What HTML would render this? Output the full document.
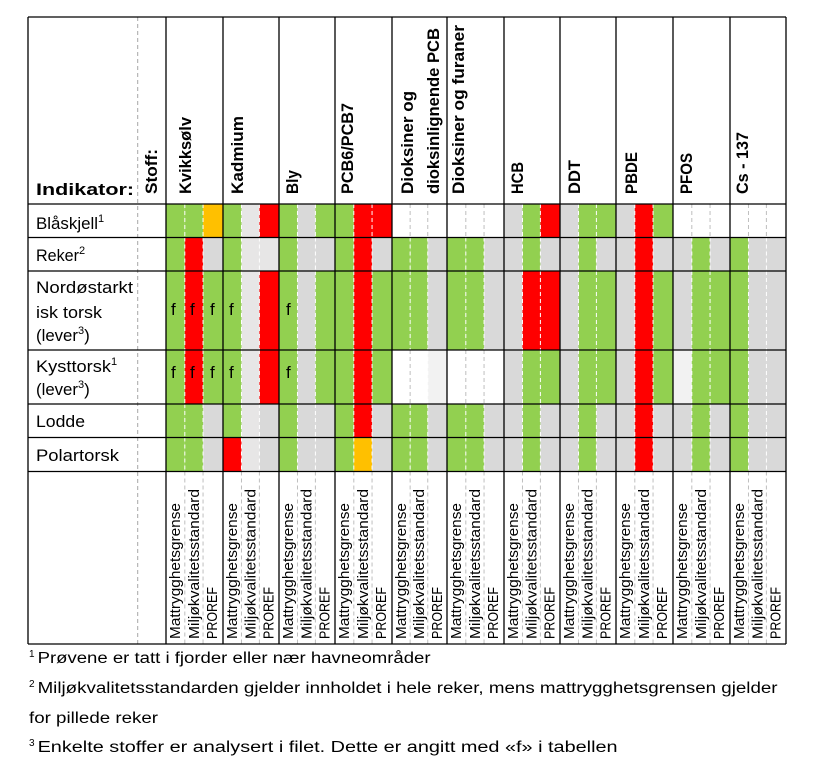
<!DOCTYPE html>
<html><head><meta charset="utf-8"><style>
html,body{margin:0;padding:0;background:#fff;width:819px;height:773px;overflow:hidden}
svg{display:block}
text{font-family:"Liberation Sans",sans-serif;fill:#000}
.h{font-weight:bold;font-size:17px}
.r{font-size:17px}
.b{font-size:15px}
.fn{font-size:15.5px}
</style></head><body>
<svg id="s" width="819" height="773" viewBox="0 0 819 773" xmlns="http://www.w3.org/2000/svg">
<g id="cells"></g>
<g id="lines"></g>
<!-- headers -->
<text class="h" x="36" y="195" textLength="98" lengthAdjust="spacingAndGlyphs">Indikator:</text>
<text class="h" transform="translate(157,194) rotate(-90)" textLength="45" lengthAdjust="spacingAndGlyphs">Stoff:</text>
<text class="h" transform="translate(191,194) rotate(-90)" textLength="77" lengthAdjust="spacingAndGlyphs">Kvikksølv</text>
<text class="h" transform="translate(243,194) rotate(-90)" textLength="78" lengthAdjust="spacingAndGlyphs">Kadmium</text>
<text class="h" transform="translate(298,194) rotate(-90)" textLength="24" lengthAdjust="spacingAndGlyphs">Bly</text>
<text class="h" transform="translate(353,194) rotate(-90)" textLength="91" lengthAdjust="spacingAndGlyphs">PCB6/PCB7</text>
<text class="h" transform="translate(413,194) rotate(-90)" textLength="103" lengthAdjust="spacingAndGlyphs">Dioksiner og</text>
<text class="h" transform="translate(439,194) rotate(-90)" textLength="166" lengthAdjust="spacingAndGlyphs">dioksinlignende PCB</text>
<text class="h" transform="translate(464,194) rotate(-90)" textLength="169" lengthAdjust="spacingAndGlyphs">Dioksiner og furaner</text>
<text class="h" transform="translate(523,194) rotate(-90)" textLength="32" lengthAdjust="spacingAndGlyphs">HCB</text>
<text class="h" transform="translate(580,194) rotate(-90)" textLength="34" lengthAdjust="spacingAndGlyphs">DDT</text>
<text class="h" transform="translate(637,194) rotate(-90)" textLength="42" lengthAdjust="spacingAndGlyphs">PBDE</text>
<text class="h" transform="translate(692,194) rotate(-90)" textLength="41" lengthAdjust="spacingAndGlyphs">PFOS</text>
<text class="h" transform="translate(748,194) rotate(-90)" textLength="62" lengthAdjust="spacingAndGlyphs">Cs - 137</text>
<!-- row labels -->
<text class="r" x="36" y="229"><tspan textLength="62" lengthAdjust="spacingAndGlyphs">Blåskjell</tspan><tspan font-size="11" dy="-7">1</tspan></text>
<text class="r" x="36" y="261"><tspan textLength="43" lengthAdjust="spacingAndGlyphs">Reker</tspan><tspan font-size="11" dy="-7">2</tspan></text>
<text class="r" x="36" y="293" textLength="97" lengthAdjust="spacingAndGlyphs">Nordøstarkt</text>
<text class="r" x="36" y="318" textLength="66" lengthAdjust="spacingAndGlyphs">isk torsk</text>
<text class="r" x="36" y="341"><tspan textLength="42" lengthAdjust="spacingAndGlyphs">(lever</tspan><tspan font-size="11" dy="-7">3</tspan><tspan dy="7">)</tspan></text>
<text class="r" x="36" y="372"><tspan textLength="75" lengthAdjust="spacingAndGlyphs">Kysttorsk</tspan><tspan font-size="11" dy="-7">1</tspan></text>
<text class="r" x="36" y="395"><tspan textLength="42" lengthAdjust="spacingAndGlyphs">(lever</tspan><tspan font-size="11" dy="-7">3</tspan><tspan dy="7">)</tspan></text>
<text class="r" x="36" y="427" textLength="49" lengthAdjust="spacingAndGlyphs">Lodde</text>
<text class="r" x="36" y="461" textLength="83" lengthAdjust="spacingAndGlyphs">Polartorsk</text>
<!-- f marks -->
<text class="r" x="171" y="315">f</text><text class="r" x="190" y="315">f</text><text class="r" x="210" y="315">f</text><text class="r" x="229" y="315">f</text><text class="r" x="286" y="315">f</text>
<text class="r" x="171" y="378">f</text><text class="r" x="190" y="378">f</text><text class="r" x="210" y="378">f</text><text class="r" x="229" y="378">f</text><text class="r" x="286" y="378">f</text>
<!-- bottom labels -->
<g>
<text class="b" transform="translate(180,639) rotate(-90)" textLength="136" lengthAdjust="spacingAndGlyphs">Mattrygghetsgrense</text>
<text class="b" transform="translate(199,639) rotate(-90)" textLength="150" lengthAdjust="spacingAndGlyphs">Miljøkvalitetsstandard</text>
<text class="b" transform="translate(217,639) rotate(-90)" textLength="52" lengthAdjust="spacingAndGlyphs">PROREF</text>
<text class="b" transform="translate(237,639) rotate(-90)" textLength="136" lengthAdjust="spacingAndGlyphs">Mattrygghetsgrense</text>
<text class="b" transform="translate(255.5,639) rotate(-90)" textLength="150" lengthAdjust="spacingAndGlyphs">Miljøkvalitetsstandard</text>
<text class="b" transform="translate(273.4,639) rotate(-90)" textLength="52" lengthAdjust="spacingAndGlyphs">PROREF</text>
<text class="b" transform="translate(293,639) rotate(-90)" textLength="136" lengthAdjust="spacingAndGlyphs">Mattrygghetsgrense</text>
<text class="b" transform="translate(311.5,639) rotate(-90)" textLength="150" lengthAdjust="spacingAndGlyphs">Miljøkvalitetsstandard</text>
<text class="b" transform="translate(329.4,639) rotate(-90)" textLength="52" lengthAdjust="spacingAndGlyphs">PROREF</text>
<text class="b" transform="translate(349,639) rotate(-90)" textLength="136" lengthAdjust="spacingAndGlyphs">Mattrygghetsgrense</text>
<text class="b" transform="translate(368,639) rotate(-90)" textLength="150" lengthAdjust="spacingAndGlyphs">Miljøkvalitetsstandard</text>
<text class="b" transform="translate(386,639) rotate(-90)" textLength="52" lengthAdjust="spacingAndGlyphs">PROREF</text>
<text class="b" transform="translate(406,639) rotate(-90)" textLength="136" lengthAdjust="spacingAndGlyphs">Mattrygghetsgrense</text>
<text class="b" transform="translate(424,639) rotate(-90)" textLength="150" lengthAdjust="spacingAndGlyphs">Miljøkvalitetsstandard</text>
<text class="b" transform="translate(442,639) rotate(-90)" textLength="52" lengthAdjust="spacingAndGlyphs">PROREF</text>
<text class="b" transform="translate(461,639) rotate(-90)" textLength="136" lengthAdjust="spacingAndGlyphs">Mattrygghetsgrense</text>
<text class="b" transform="translate(480,639) rotate(-90)" textLength="150" lengthAdjust="spacingAndGlyphs">Miljøkvalitetsstandard</text>
<text class="b" transform="translate(498,639) rotate(-90)" textLength="52" lengthAdjust="spacingAndGlyphs">PROREF</text>
<text class="b" transform="translate(518,639) rotate(-90)" textLength="136" lengthAdjust="spacingAndGlyphs">Mattrygghetsgrense</text>
<text class="b" transform="translate(536.5,639) rotate(-90)" textLength="150" lengthAdjust="spacingAndGlyphs">Miljøkvalitetsstandard</text>
<text class="b" transform="translate(554.4,639) rotate(-90)" textLength="52" lengthAdjust="spacingAndGlyphs">PROREF</text>
<text class="b" transform="translate(574,639) rotate(-90)" textLength="136" lengthAdjust="spacingAndGlyphs">Mattrygghetsgrense</text>
<text class="b" transform="translate(592.5,639) rotate(-90)" textLength="150" lengthAdjust="spacingAndGlyphs">Miljøkvalitetsstandard</text>
<text class="b" transform="translate(610.4,639) rotate(-90)" textLength="52" lengthAdjust="spacingAndGlyphs">PROREF</text>
<text class="b" transform="translate(630,639) rotate(-90)" textLength="136" lengthAdjust="spacingAndGlyphs">Mattrygghetsgrense</text>
<text class="b" transform="translate(649,639) rotate(-90)" textLength="150" lengthAdjust="spacingAndGlyphs">Miljøkvalitetsstandard</text>
<text class="b" transform="translate(667,639) rotate(-90)" textLength="52" lengthAdjust="spacingAndGlyphs">PROREF</text>
<text class="b" transform="translate(687,639) rotate(-90)" textLength="136" lengthAdjust="spacingAndGlyphs">Mattrygghetsgrense</text>
<text class="b" transform="translate(706,639) rotate(-90)" textLength="150" lengthAdjust="spacingAndGlyphs">Miljøkvalitetsstandard</text>
<text class="b" transform="translate(724,639) rotate(-90)" textLength="52" lengthAdjust="spacingAndGlyphs">PROREF</text>
<text class="b" transform="translate(744,639) rotate(-90)" textLength="136" lengthAdjust="spacingAndGlyphs">Mattrygghetsgrense</text>
<text class="b" transform="translate(762.5,639) rotate(-90)" textLength="150" lengthAdjust="spacingAndGlyphs">Miljøkvalitetsstandard</text>
<text class="b" transform="translate(780.4,639) rotate(-90)" textLength="52" lengthAdjust="spacingAndGlyphs">PROREF</text>
</g>
<!-- footnotes -->
<text class="fn" x="29" y="663"><tspan font-size="10" dy="-6">1</tspan><tspan dx="3" dy="6" textLength="393" lengthAdjust="spacingAndGlyphs">Prøvene er tatt i fjorder eller nær havneområder</tspan></text>
<text class="fn" x="29" y="693"><tspan font-size="10" dy="-6">2</tspan><tspan dx="3" dy="6" textLength="740" lengthAdjust="spacingAndGlyphs">Miljøkvalitetsstandarden gjelder innholdet i hele reker, mens mattrygghetsgrensen gjelder</tspan></text>
<text class="fn" x="29" y="723" textLength="129" lengthAdjust="spacingAndGlyphs">for pillede reker</text>
<text class="fn" x="29" y="752"><tspan font-size="10" dy="-6">3</tspan><tspan dx="3" dy="6" textLength="580" lengthAdjust="spacingAndGlyphs">Enkelte stoffer er analysert i filet. Dette er angitt med «f» i tabellen</tspan></text>
</svg>
<script>
(function(){
var NS="http://www.w3.org/2000/svg";
var cells=document.getElementById('cells'),lines=document.getElementById('lines');
function el(p,t,a){var e=document.createElementNS(NS,t);for(var k in a)e.setAttribute(k,a[k]);p.appendChild(e);return e;}
var L=[166,223,279,335,392,447,504,560,616,673,730,786];
var Y=[204,237.5,271,350,404,437.5,471.5];
var C={G:'#92d050',R:'#ff0000',O:'#ffc000',L:'#d9d9d9',l:'#e7e6e6',W:'#ffffff',F:'#f2f2f2'};
var M=[
"GGO GlR GLG GRR WWW WWW LGR LGG LRG WWW WWW",
"GRL Gll GLL GRL GGL GGL LGL LGL LRL LGL GLL",
"GRG GlR GLG GRG GGL GGL LRR LGG LRG LGG GLL",
"GRG GlR GLG GRG WWF WWW LGG LGG LRG FGG GLL",
"GGL GlL GLL GRL GGL GGL LGL LGL LRL LGL GLL",
"GGL RlL GLL GOL GGL GGL LGL LGL LRL LGL GLL"];
function subs(g){var a=L[g],w=L[g+1]-a;return [a,a+0.33*w,a+0.65*w,a+w];}
for(var r=0;r<6;r++){var row=M[r].split(' ');
 for(var g=0;g<11;g++){var s=subs(g);
  for(var k=0;k<3;k++){var c=row[g][k];
   el(cells,'rect',{x:s[k],y:Y[r],width:s[k+1]-s[k],height:Y[r+1]-Y[r],fill:C[c]});}
  for(var k=1;k<3;k++){var a=row[g][k-1],b=row[g][k];
   var col=(a=='W'&&b=='W')?'#bfbfbf':'#ffffff';
   el(lines,'line',{x1:s[k],x2:s[k],y1:Y[r],y2:Y[r+1],stroke:col,'stroke-width':1,'stroke-dasharray':'4,3'});}
 }}
for(var g=0;g<11;g++){var s=subs(g);for(var k=1;k<3;k++)el(lines,'line',{x1:s[k],x2:s[k],y1:471.5,y2:644,stroke:'#bfbfbf','stroke-width':1,'stroke-dasharray':'4,3'});}
el(lines,'line',{x1:137.7,x2:137.7,y1:17,y2:644,stroke:'#a6a6a6','stroke-width':1,'stroke-dasharray':'4,3'});
var H=[17,204,237.5,271,350,404,437.5,471.5,644];
H.forEach(function(y){el(lines,'line',{x1:28,x2:786,y1:y,y2:y,stroke:'#000','stroke-width':1.3});});
el(lines,'line',{x1:28,x2:28,y1:17,y2:644,stroke:'#000','stroke-width':1.3});
L.forEach(function(x){el(lines,'line',{x1:x,x2:x,y1:17,y2:644,stroke:'#000','stroke-width':1.3});});
})();
</script>
</body></html>
